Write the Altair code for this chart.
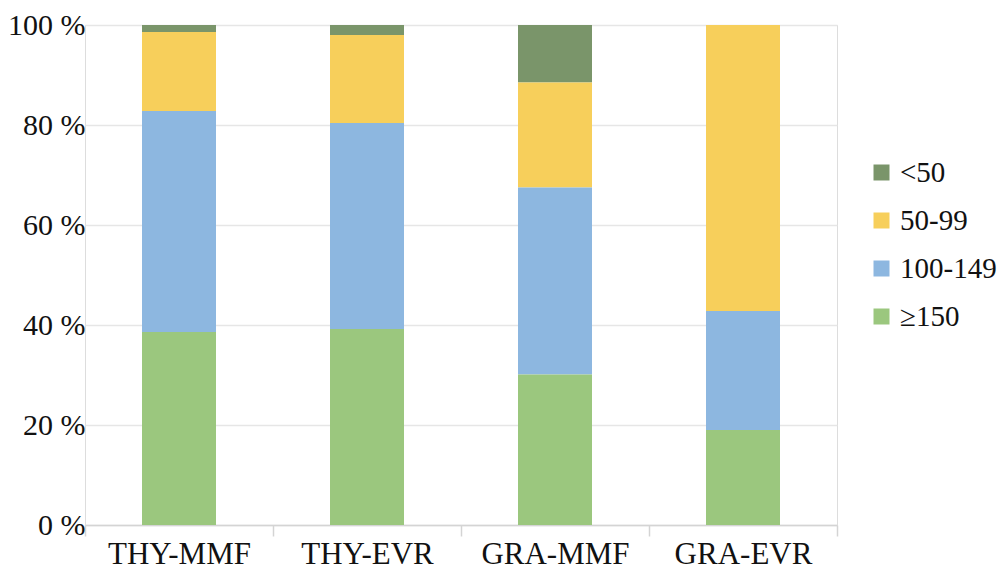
import altair as alt
import pandas as pd

groups = ["THY-MMF", "THY-EVR", "GRA-MMF", "GRA-EVR"]
categories = ["<50", "50-99", "100-149", "≥150"]
v_lt50 = [1.4, 2.0, 11.5, 0.0]
v_50_99 = [15.8, 17.6, 21.0, 57.2]
v_100_149 = [44.2, 41.2, 37.4, 23.8]
v_ge150 = [38.6, 39.2, 30.1, 19.0]
colors = ["#7A956A", "#F7CF5B", "#8DB7E0", "#9BC77E"]

series = {"<50": v_lt50, "50-99": v_50_99, "100-149": v_100_149, "≥150": v_ge150}
stack_order = {"≥150": 0, "100-149": 1, "50-99": 2, "<50": 3}
rows = []
for cat, vals in series.items():
    for g, v in zip(groups, vals):
        rows.append({"group": g, "cat": cat, "value": v, "ord": stack_order[cat]})
df = pd.DataFrame(rows)

FONT = "Liberation Serif"
FS = 30

chart = alt.Chart(df).mark_bar(size=74).encode(
    x=alt.X("group:N", sort=groups, title=None,
            scale=alt.Scale(paddingInner=0, paddingOuter=0),
            axis=alt.Axis(labelAngle=0, labelFont=FONT, labelFontSize=31,
                          labelColor="#111111", labelPadding=3,
                          domainColor="#d4d4d4", domainWidth=1.5,
                          tickColor="#d4d4d4", tickSize=11, tickWidth=1.5,
                          tickBand="extent", grid=False)),
    y=alt.Y("value:Q", stack="zero", title=None,
            scale=alt.Scale(domain=[0, 100], nice=False),
            axis=alt.Axis(values=[0, 20, 40, 60, 80, 100],
                          labelExpr="datum.value + ' %'",
                          labelFont=FONT, labelFontSize=FS, labelColor="#111111",
                          labelPadding=0, ticks=False, domain=False,
                          grid=True, gridColor="#e6e6e6", gridWidth=1.5)),
    color=alt.Color("cat:N", sort=categories, title=None,
                    scale=alt.Scale(domain=categories, range=colors),
                    legend=alt.Legend(orient="none", legendX=782, legendY=133,
                                      symbolType="square", symbolSize=256,
                                      symbolStrokeWidth=0, labelFont=FONT,
                                      labelFontSize=29, labelColor="#111111",
                                      rowPadding=18, labelOffset=4, padding=0)),
    order=alt.Order("ord:Q"),
).properties(
    width=752, height=500,
    autosize=alt.AutoSizeParams(type="none"),
    padding={"left": 77, "top": 17, "right": 162, "bottom": 45},
).configure_view(stroke=None).configure(background="white", font=FONT)

chart.save("out.html", embed_options={"renderer": "svg", "actions": False})
